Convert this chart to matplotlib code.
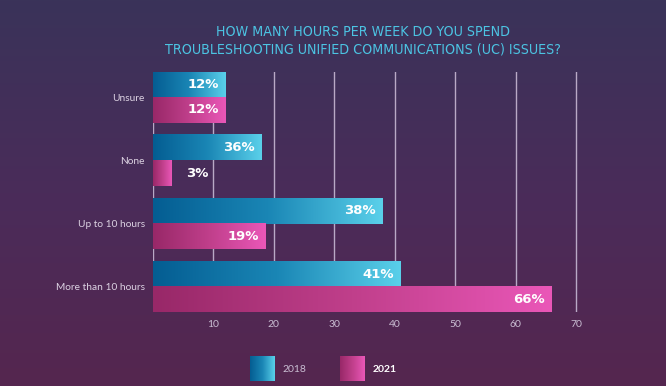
import numpy as np
import matplotlib.pyplot as plt
from matplotlib.colors import LinearSegmentedColormap

categories = ['Unsure', 'None', 'Up to 10 hours', 'More than 10 hours']
# bar lengths as drawn in the picture, and the printed labels
bars_2018 = [12, 18, 38, 41]
bars_2021 = [12, 3, 18.6, 66]
labels_2018 = ['12%', '36%', '38%', '41%']
labels_2021 = ['12%', '3%', '19%', '66%']
ticks = [0, 10, 20, 30, 40, 50, 60, 70]
tick_labels = ['', '10', '20', '30', '40', '50', '60', '70']

title = 'HOW MANY HOURS PER WEEK DO YOU SPEND\nTROUBLESHOOTING UNIFIED COMMUNICATIONS (UC) ISSUES?'

blue = LinearSegmentedColormap.from_list('blue', ['#045d92', '#1a86b5', '#5ad0ea'])
pink = LinearSegmentedColormap.from_list('pink', ['#982868', '#c03f8b', '#ea57b8'])
bg = LinearSegmentedColormap.from_list('bg', ['#3a3359', '#4a2c5a', '#55264f'])

fig = plt.figure(figsize=(6.66, 3.86), dpi=100)

# background gradient
bgax = fig.add_axes([0, 0, 1, 1], zorder=-1)
bgax.imshow(np.linspace(0, 1, 256).reshape(-1, 1), aspect='auto', cmap=bg,
            extent=[0, 1, 0, 1], origin='upper')
bgax.axis('off')

ax = fig.add_axes([0.2297, 0.1917, 0.6379, 0.6218])
ax.set_facecolor('none')

y = np.arange(len(categories))
h = 0.4
grad = np.linspace(0, 1, 256).reshape(1, -1)

b1 = ax.barh(y - h / 2, bars_2018, height=h, color='none', zorder=2)
b2 = ax.barh(y + h / 2, bars_2021, height=h, color='none', zorder=2)

for bars, cmap in [(b1, blue), (b2, pink)]:
    for p in bars:
        x0, y0 = p.get_x(), p.get_y()
        w, hh = p.get_width(), p.get_height()
        ax.imshow(grad, aspect='auto', cmap=cmap, extent=[x0, x0 + w, y0 + hh, y0],
                  zorder=2, interpolation='bilinear')

for bars, labels in [(b1, labels_2018), (b2, labels_2021)]:
    for p, lab in zip(bars, labels):
        w = p.get_width()
        yc = p.get_y() + p.get_height() / 2
        if w < 8:
            ax.text(w + 2.4, yc, lab, ha='left', va='center', color='white',
                    fontsize=9.5, fontweight='bold', zorder=3)
        else:
            ax.text(w - 1.1, yc, lab, ha='right', va='center', color='white',
                    fontsize=9.5, fontweight='bold', zorder=3)

ax.set_xlim(0, 70.3)
ax.set_ylim(3.4, -0.4)
ax.set_xticks(ticks)
ax.set_xticklabels(tick_labels, fontsize=7.5, color='#c9bdd2', family='Lato')
ax.set_yticks(y)
ax.set_yticklabels(categories, fontsize=7.3, color='#ddd3e3', family='Lato')
ax.tick_params(length=0, pad=6)
ax.xaxis.grid(True, color='#b9a9c6', linewidth=1)
ax.set_axisbelow(True)
for s in ax.spines.values():
    s.set_visible(False)

fig.text(0.545, 0.894, title, ha='center', va='center', color='#4cc4e3',
         fontsize=10.2, fontweight='normal', linespacing=1.35,
         family='DejaVu Sans', fontstretch='condensed')

# legend
lax = fig.add_axes([0, 0, 1, 1], zorder=1)
lax.axis('off')
lax.imshow(grad, aspect='auto', cmap=blue, extent=[250, 275, 381, 356])
lax.imshow(grad, aspect='auto', cmap=pink, extent=[340, 365, 381, 356])
lax.set_xlim(0, 666)
lax.set_ylim(386, 0)
lax.text(282, 369, '2018', ha='left', va='center', fontsize=7.5, color='#c9bdd2', family='Lato')
lax.text(373, 369, '2021', ha='left', va='center', fontsize=7.5, color='white',
         fontweight='bold', family='Lato')

fig.savefig('out.png', dpi=100)
